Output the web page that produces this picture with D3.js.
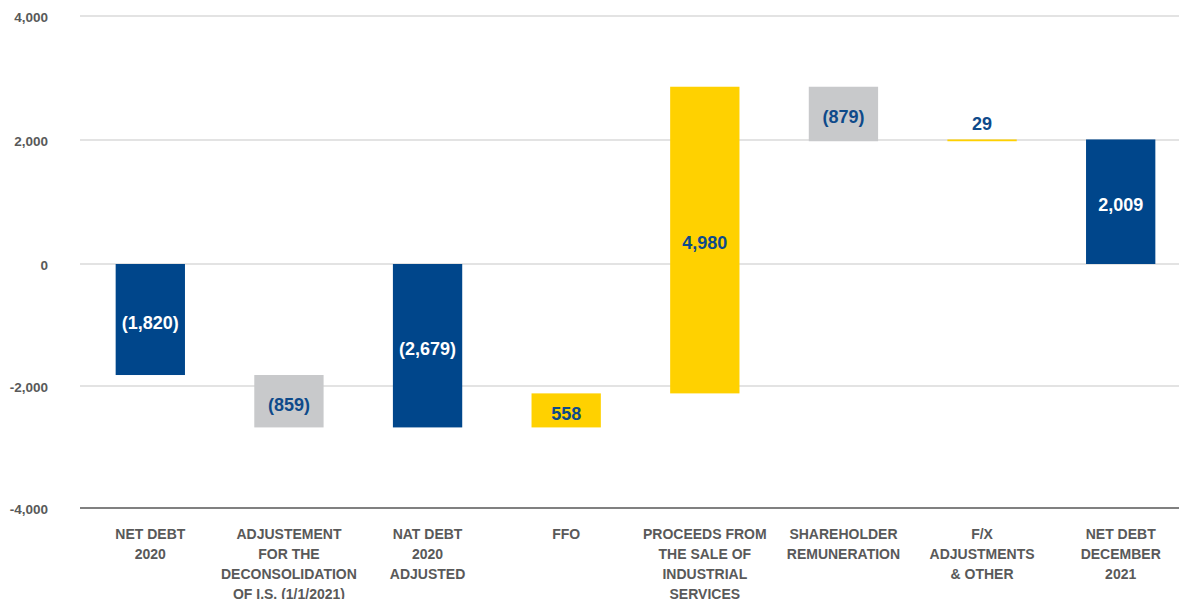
<!DOCTYPE html>
<html>
<head>
<meta charset="utf-8">
<script src="https://cdn.jsdelivr.net/npm/d3@7"></script>
<style>
  html, body { margin: 0; padding: 0; background: #fff; }
  svg { display: block; font-family: "Liberation Sans", Arial, sans-serif; }
</style>
</head>
<body>
<svg id="chart" width="1179" height="599"></svg>
<script>
// Net debt bridge 2020 → December 2021 (€ million)
const categories = [
  ["NET DEBT", "2020"],
  ["ADJUSTEMENT", "FOR THE", "DECONSOLIDATION", "OF I.S. (1/1/2021)"],
  ["NAT DEBT", "2020", "ADJUSTED"],
  ["FFO"],
  ["PROCEEDS FROM", "THE SALE OF", "INDUSTRIAL", "SERVICES"],
  ["SHAREHOLDER", "REMUNERATION"],
  ["F/X", "ADJUSTMENTS", "& OTHER"],
  ["NET DEBT", "DECEMBER", "2021"]
];
// change of each step; totals are drawn from zero
const values = [-1820, -859, -2679, 558, 4980, -879, 29, 2009];
const kinds  = ["total", "decrease", "total", "increase", "increase", "decrease", "increase", "total"];
const valueLabels = ["(1,820)", "(859)", "(2,679)", "558", "4,980", "(879)", "29", "2,009"];
const yTicks = [-4000, -2000, 0, 2000, 4000];

const fills = { total: "#00468B", decrease: "#C8C9CB", increase: "#FFD100" };
const textFill = { total: "#FFFFFF", decrease: "#0E4A8A", increase: "#0E4A8A" };

// running start/end of each step
let running = 0;
const steps = values.map((v, i) => {
  let start, end;
  if (kinds[i] === "total") { start = 0; end = v; running = v; }
  else { start = running; end = running + v; running = end; }
  return { i, start, end, value: v, kind: kinds[i], label: valueLabels[i] };
});

const svg = d3.select("#chart");
const W = 1179;

const x = d3.scaleBand()
  .domain(d3.range(categories.length))
  .range([81, 1190])
  .paddingInner(0.5)
  .paddingOuter(0.25);

const y = d3.scaleLinear().domain([-4000, 0, 4000]).range([508, 264, 16]);

const fmt = d => d3.format(",")(d).replace("\u2212", "-");

// gridlines
svg.append("g").selectAll("line")
  .data(yTicks.filter(t => t !== -4000))
  .join("line")
  .attr("x1", 80).attr("x2", W)
  .attr("y1", d => y(d)).attr("y2", d => y(d))
  .attr("stroke", "#E3E3E3").attr("stroke-width", 2);

// y tick labels
svg.append("g").selectAll("text")
  .data(yTicks)
  .join("text")
  .attr("x", 48).attr("y", d => y(d) + 1)
  .attr("dy", "0.35em")
  .attr("text-anchor", "end")
  .attr("font-size", 13.5).attr("font-weight", "bold")
  .attr("fill", "#595959")
  .text(fmt);

// bars
svg.append("g").selectAll("rect")
  .data(steps)
  .join("rect")
  .attr("x", d => x(d.i))
  .attr("width", x.bandwidth())
  .attr("y", d => y(Math.max(d.start, d.end)))
  .attr("height", d => Math.abs(y(d.start) - y(d.end)))
  .attr("fill", d => fills[d.kind]);

// baseline axis at -4,000
svg.append("line")
  .attr("x1", 80).attr("x2", W)
  .attr("y1", y(-4000)).attr("y2", y(-4000))
  .attr("stroke", "#808080").attr("stroke-width", 2);

// value labels: inside the bar, or above when the bar is too thin
svg.append("g").selectAll("text")
  .data(steps)
  .join("text")
  .attr("x", d => x(d.i) + x.bandwidth() / 2)
  .attr("y", d => {
    const top = y(Math.max(d.start, d.end));
    const bot = y(Math.min(d.start, d.end));
    return (bot - top) < 24 ? top - 16 : (top + bot) / 2 + 3;
  })
  .attr("dy", "0.35em")
  .attr("text-anchor", "middle")
  .attr("font-size", 18).attr("font-weight", "bold")
  .attr("fill", d => {
    const h = Math.abs(y(d.start) - y(d.end));
    return h < 24 ? "#0E4A8A" : textFill[d.kind];
  })
  .text(d => d.label);

// category labels
const cat = svg.append("g").selectAll("text")
  .data(categories)
  .join("text")
  .attr("x", (d, i) => x(i) + x.bandwidth() / 2)
  .attr("y", 539)
  .attr("text-anchor", "middle")
  .attr("font-size", 14).attr("font-weight", "bold")
  .attr("fill", "#595959");
cat.selectAll("tspan")
  .data((d, i) => d.map(line => ({ line, i })))
  .join("tspan")
  .attr("x", d => x(d.i) + x.bandwidth() / 2)
  .attr("dy", (d, j) => j === 0 ? 0 : 20)
  .text(d => d.line);
</script>
</body>
</html>
